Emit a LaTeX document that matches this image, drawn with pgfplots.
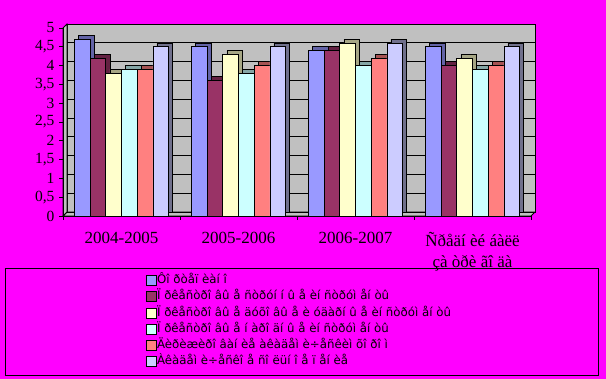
\documentclass[border=0pt]{standalone}
\usepackage{pgfplots}
\pgfplotsset{compat=1.18}
\usepackage{pgfplotstable}
\usepackage{fontspec}
\setmainfont{Liberation Serif}
\newfontfamily\legfont{DejaVu Sans}
\newcommand{\LG}[1]{{\legfont\fontsize{11.8}{12}\selectfont #1}}
\definecolor{magbg}{HTML}{FF00FF}
\definecolor{wall}{HTML}{C0C0C0}
\definecolor{cA}{HTML}{9999FF}
\definecolor{cB}{HTML}{993366}
\definecolor{cC}{HTML}{FFFFCC}
\definecolor{cD}{HTML}{CCFFFF}
\definecolor{cE}{HTML}{FF8080}
\definecolor{cF}{HTML}{CCCCFF}

\pgfplotstableread{
x a b c d e f
0 4.7 4.2 3.8 3.9 3.9 4.5
1 4.5 3.6 4.3 3.8 4.0 4.5
2 4.4 4.4 4.6 4.0 4.2 4.6
3 4.5 4.0 4.2 3.9 4.0 4.5
}\data

\begin{document}
\begin{tikzpicture}[x=1pt,y=1pt]
\fill[magbg] (0,0) rectangle (606,379);
% 3D walls (back wall, floor, left wall)
\filldraw[fill=wall, draw=black, line width=0.8pt] (67,167) rectangle (535,355);
\filldraw[fill=wall, draw=black, line width=0.8pt] (63,163) -- (531,163) -- (535,167) -- (67,167) -- cycle;
\filldraw[fill=wall, draw=black, line width=0.8pt] (63,163) -- (67,167) -- (67,355) -- (63,351) -- cycle;
\begin{axis}[
  at={(63pt,163pt)}, anchor=south west,
  scale only axis, width=468pt, height=188pt,
  xmin=-0.5, xmax=3.5, ymin=0, ymax=5,
  clip=false,
  axis line style={black, line width=0.8pt},
  axis x line*=bottom, axis y line*=left,
  ytick={0,0.5,...,5},
  xtick={0,1,2,3},
  xticklabels={2004-2005,2005-2006,2006-2007,{Ñðåäí èé áàëë\\çà òðè ãî äà}},
  minor xtick={-0.5,0.5,1.5,2.5,3.5},
  tick align=outside,
  major x tick style={draw=none},
  minor tick length=4pt, major tick length=4pt,
  tick style={black, line width=0.8pt},
  ymajorgrids,
  major grid style={black, line width=0.8pt, xshift=4pt, yshift=4pt},
  /pgf/number format/assume math mode=true,
  /pgf/number format/use comma,
  yticklabel style={font=\fontsize{15.5}{15.5}\selectfont, xshift=-1pt},
  xticklabel style={font=\fontsize{17}{21}\selectfont, align=center, yshift=-9pt},
  ybar, bar width=15.7pt,
  legend style={at={(0.171,-0.303)}, anchor=north west, draw=none, fill=none,
     row sep=4.85pt,
     nodes={inner sep=0pt, text height=8pt, text depth=3pt}},
  legend cell align=left,
  legend image code/.code={\draw[#1,draw=black,line width=0.8pt] (0pt,-4.5pt) rectangle (10pt,5.5pt);},
]
% depth faces
\addplot[forget plot, fill=cA!65!black, draw=black, bar shift=-39.25pt, xshift=4pt, yshift=4pt] table[x=x,y=a]{\data};
\addplot[forget plot, fill=cB!65!black, draw=black, bar shift=-23.55pt, xshift=4pt, yshift=4pt] table[x=x,y=b]{\data};
\addplot[forget plot, fill=cC!65!black, draw=black, bar shift=-7.85pt, xshift=4pt, yshift=4pt] table[x=x,y=c]{\data};
\addplot[forget plot, fill=cD!65!black, draw=black, bar shift=7.85pt, xshift=4pt, yshift=4pt] table[x=x,y=d]{\data};
\addplot[forget plot, fill=cE!65!black, draw=black, bar shift=23.55pt, xshift=4pt, yshift=4pt] table[x=x,y=e]{\data};
\addplot[forget plot, fill=cF!55!black, draw=black, bar shift=39.25pt, xshift=4pt, yshift=4pt] table[x=x,y=f]{\data};
% front faces
\addplot[fill=cA, draw=black, line width=0.8pt, bar shift=-39.25pt] table[x=x,y=a]{\data};
\addplot[fill=cB, draw=black, line width=0.8pt, bar shift=-23.55pt] table[x=x,y=b]{\data};
\addplot[fill=cC, draw=black, line width=0.8pt, bar shift=-7.85pt] table[x=x,y=c]{\data};
\addplot[fill=cD, draw=black, line width=0.8pt, bar shift=7.85pt] table[x=x,y=d]{\data};
\addplot[fill=cE, draw=black, line width=0.8pt, bar shift=23.55pt] table[x=x,y=e]{\data};
\addplot[fill=cF, draw=black, line width=0.8pt, bar shift=39.25pt] table[x=x,y=f]{\data};
\legend{\LG{Ôî ðòåï èàí î},
\LG{Ï ðêåñòðî âû å ñòðóí í û å èí ñòðóì åí òû},
\LG{Ï ðêåñòðî âû å äóõî âû å è óäàðí û å èí ñòðóì åí òû},
\LG{Ï ðêåñòðî âû å í àðî äí û å èí ñòðóì åí òû},
\LG{Äèðèæèðî âàí èå àêàäåì è÷åñêèì õî ðî ì},
\LG{Àêàäåì è÷åñêî å ñî ëüí î å ï åí èå}}
\end{axis}
\draw[black, line width=0.8pt] (5,4) rectangle (598,111);
\useasboundingbox (0,0) rectangle (606,379);
\end{tikzpicture}
\end{document}
